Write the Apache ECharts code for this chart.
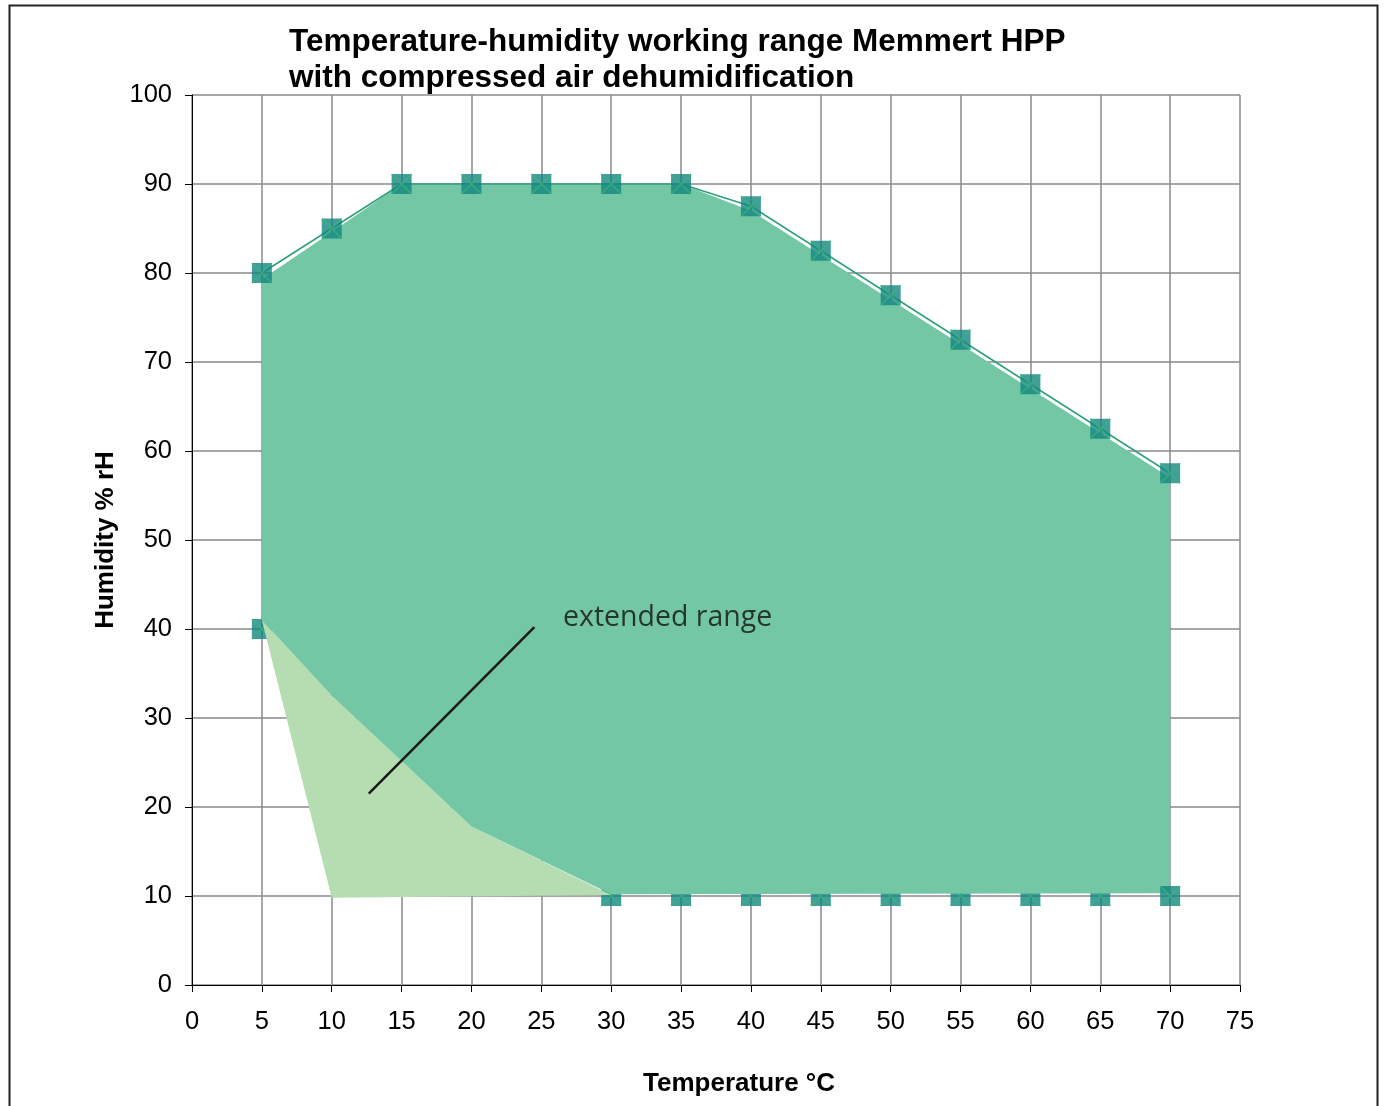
<!DOCTYPE html>
<html>
<head>
<meta charset="utf-8">
<script src="https://cdn.jsdelivr.net/npm/echarts@6/dist/echarts.min.js"></script>
<style>
  html, body { margin: 0; padding: 0; background: #fff; }
  #chart { width: 1384px; height: 1106px; }
</style>
</head>
<body>
<div id="chart"></div>
<script>
// upper limit markers (temperature, humidity)
const upperTemp = [5, 10, 15, 20, 25, 30, 35, 40, 45, 50, 55, 60, 65, 70];
const upperHum = [80, 85, 90, 90, 90, 90, 90, 87.5, 82.5, 77.5, 72.5, 67.5, 62.5, 57.5];
// lower limit markers
const lowerTemp = [5, 30, 35, 40, 45, 50, 55, 60, 65];
const lowerHum = [40, 10, 10, 10, 10, 10, 10, 10, 10];
const cornerPoint = [70, 10];
// standard working range (dark area)
const rangeOutline = [
  [5, 79.3], [10, 84.6], [15, 90], [35, 90], [40, 87], [45, 82], [50, 77],
  [55, 72], [60, 67], [65, 62], [70, 57], [70, 10.3], [30, 10.2], [20, 17.8],
  [10, 32.5], [5, 41]
];
// extended range (light area)
const extendedOutline = [[5, 41], [10, 9.8], [30, 10.1], [20, 17.8], [10, 32.5]];
const pointerLine = [[12.65, 21.5], [24.5, 40.2]];
const labelPos = [26.55, 41.3];

const chart = echarts.init(document.getElementById('chart'));

function polygonSeries (name, pts, color, z) {
  return {
    name: name,
    type: 'custom',
    z: z,
    silent: true,
    renderItem: function (params, api) {
      if (params.dataIndex > 0) return;
      const points = pts.map(p => api.coord(p));
      return {
        type: 'polygon',
        shape: { points: points },
        style: { fill: color }
      };
    },
    data: [pts[0]]
  };
}

const crossPath = 'path://M0,0L10,10M10,0L0,10';
const upperPts = upperTemp.map((t, i) => [t, upperHum[i]]);
const lowerPts = lowerTemp.map((t, i) => [t, lowerHum[i]]);

const option = {
  animation: false,
  title: {
    text: 'Temperature-humidity working range Memmert HPP\nwith compressed air dehumidification',
    left: 284,
    top: 19,
    textStyle: {
      fontFamily: 'Liberation Sans',
      fontWeight: 'bold',
      fontSize: 31.5,
      lineHeight: 36,
      color: '#000'
    }
  },
  graphic: [{
    type: 'rect',
    shape: { x: 9.5, y: 5.5, width: 1368, height: 1110 },
    style: { fill: 'none', stroke: '#222', lineWidth: 2 },
    silent: true
  }],
  grid: { left: 192, right: 144, top: 95, bottom: 121 },
  xAxis: {
    type: 'value',
    min: 0,
    max: 75,
    interval: 5,
    name: 'Temperature °C',
    nameLocation: 'middle',
    nameGap: 86,
    nameTextStyle: {
      fontFamily: 'Liberation Sans', fontWeight: 'bold', fontSize: 26, color: '#000',
      padding: [0, 0, 0, 46]
    },
    axisLine: { show: true, lineStyle: { color: '#000', width: 1 } },
    axisTick: { show: true, length: 7, lineStyle: { color: '#000' } },
    axisLabel: { fontFamily: 'Liberation Sans', fontSize: 25.5, color: '#000', margin: 24 },
    splitLine: { show: true, lineStyle: { color: '#8a8a8e', width: 1.5 } }
  },
  yAxis: {
    type: 'value',
    min: 0,
    max: 100,
    interval: 10,
    name: 'Humidity % rH',
    nameLocation: 'middle',
    nameGap: 68,
    nameTextStyle: { fontFamily: 'Liberation Sans', fontWeight: 'bold', fontSize: 26, color: '#000' },
    axisLine: { show: true, lineStyle: { color: '#000', width: 1 } },
    axisTick: { show: true, length: 7, lineStyle: { color: '#000' } },
    axisLabel: { fontFamily: 'Liberation Sans', fontSize: 25.5, color: '#000', margin: 20 },
    splitLine: { show: true, lineStyle: { color: '#8a8a8e', width: 1.5 } }
  },
  series: [
    // lower markers sit under the filled areas
    {
      type: 'scatter', z: 2, silent: true,
      symbol: 'rect', symbolSize: [20, 20],
      itemStyle: { color: '#118680' },
      data: lowerPts
    },
    {
      type: 'scatter', z: 2, silent: true,
      symbol: crossPath, symbolSize: 20,
      itemStyle: { color: 'none', borderColor: '#3cb57a', borderWidth: 1.2 },
      data: lowerPts
    },
    polygonSeries('extended', extendedOutline, '#b5ddb1', 3),
    polygonSeries('standard', rangeOutline, '#74c7a5', 4),
    {
      type: 'line', z: 5, silent: true,
      data: upperPts,
      showSymbol: false,
      lineStyle: { color: '#2f9f7c', width: 1.5 }
    },
    {
      type: 'scatter', z: 6, silent: true,
      symbol: 'rect', symbolSize: [20, 20],
      itemStyle: { color: '#118680' },
      data: upperPts.concat([cornerPoint])
    },
    {
      type: 'scatter', z: 7, silent: true,
      symbol: crossPath, symbolSize: 20,
      itemStyle: { color: 'none', borderColor: '#3cb57a', borderWidth: 1.2 },
      data: upperPts.concat([cornerPoint])
    },
    {
      type: 'line', z: 8, silent: true,
      data: pointerLine,
      showSymbol: false,
      lineStyle: { color: '#1a1a1a', width: 2.5 }
    },
    {
      type: 'scatter', z: 9, silent: true,
      symbolSize: 0,
      data: [labelPos],
      label: {
        show: true,
        position: 'right',
        distance: 0,
        formatter: 'extended range',
        fontFamily: 'Open Sans',
        fontSize: 28.5,
        color: '#111'
      }
    }
  ]
};

chart.setOption(option);
</script>
</body>
</html>
